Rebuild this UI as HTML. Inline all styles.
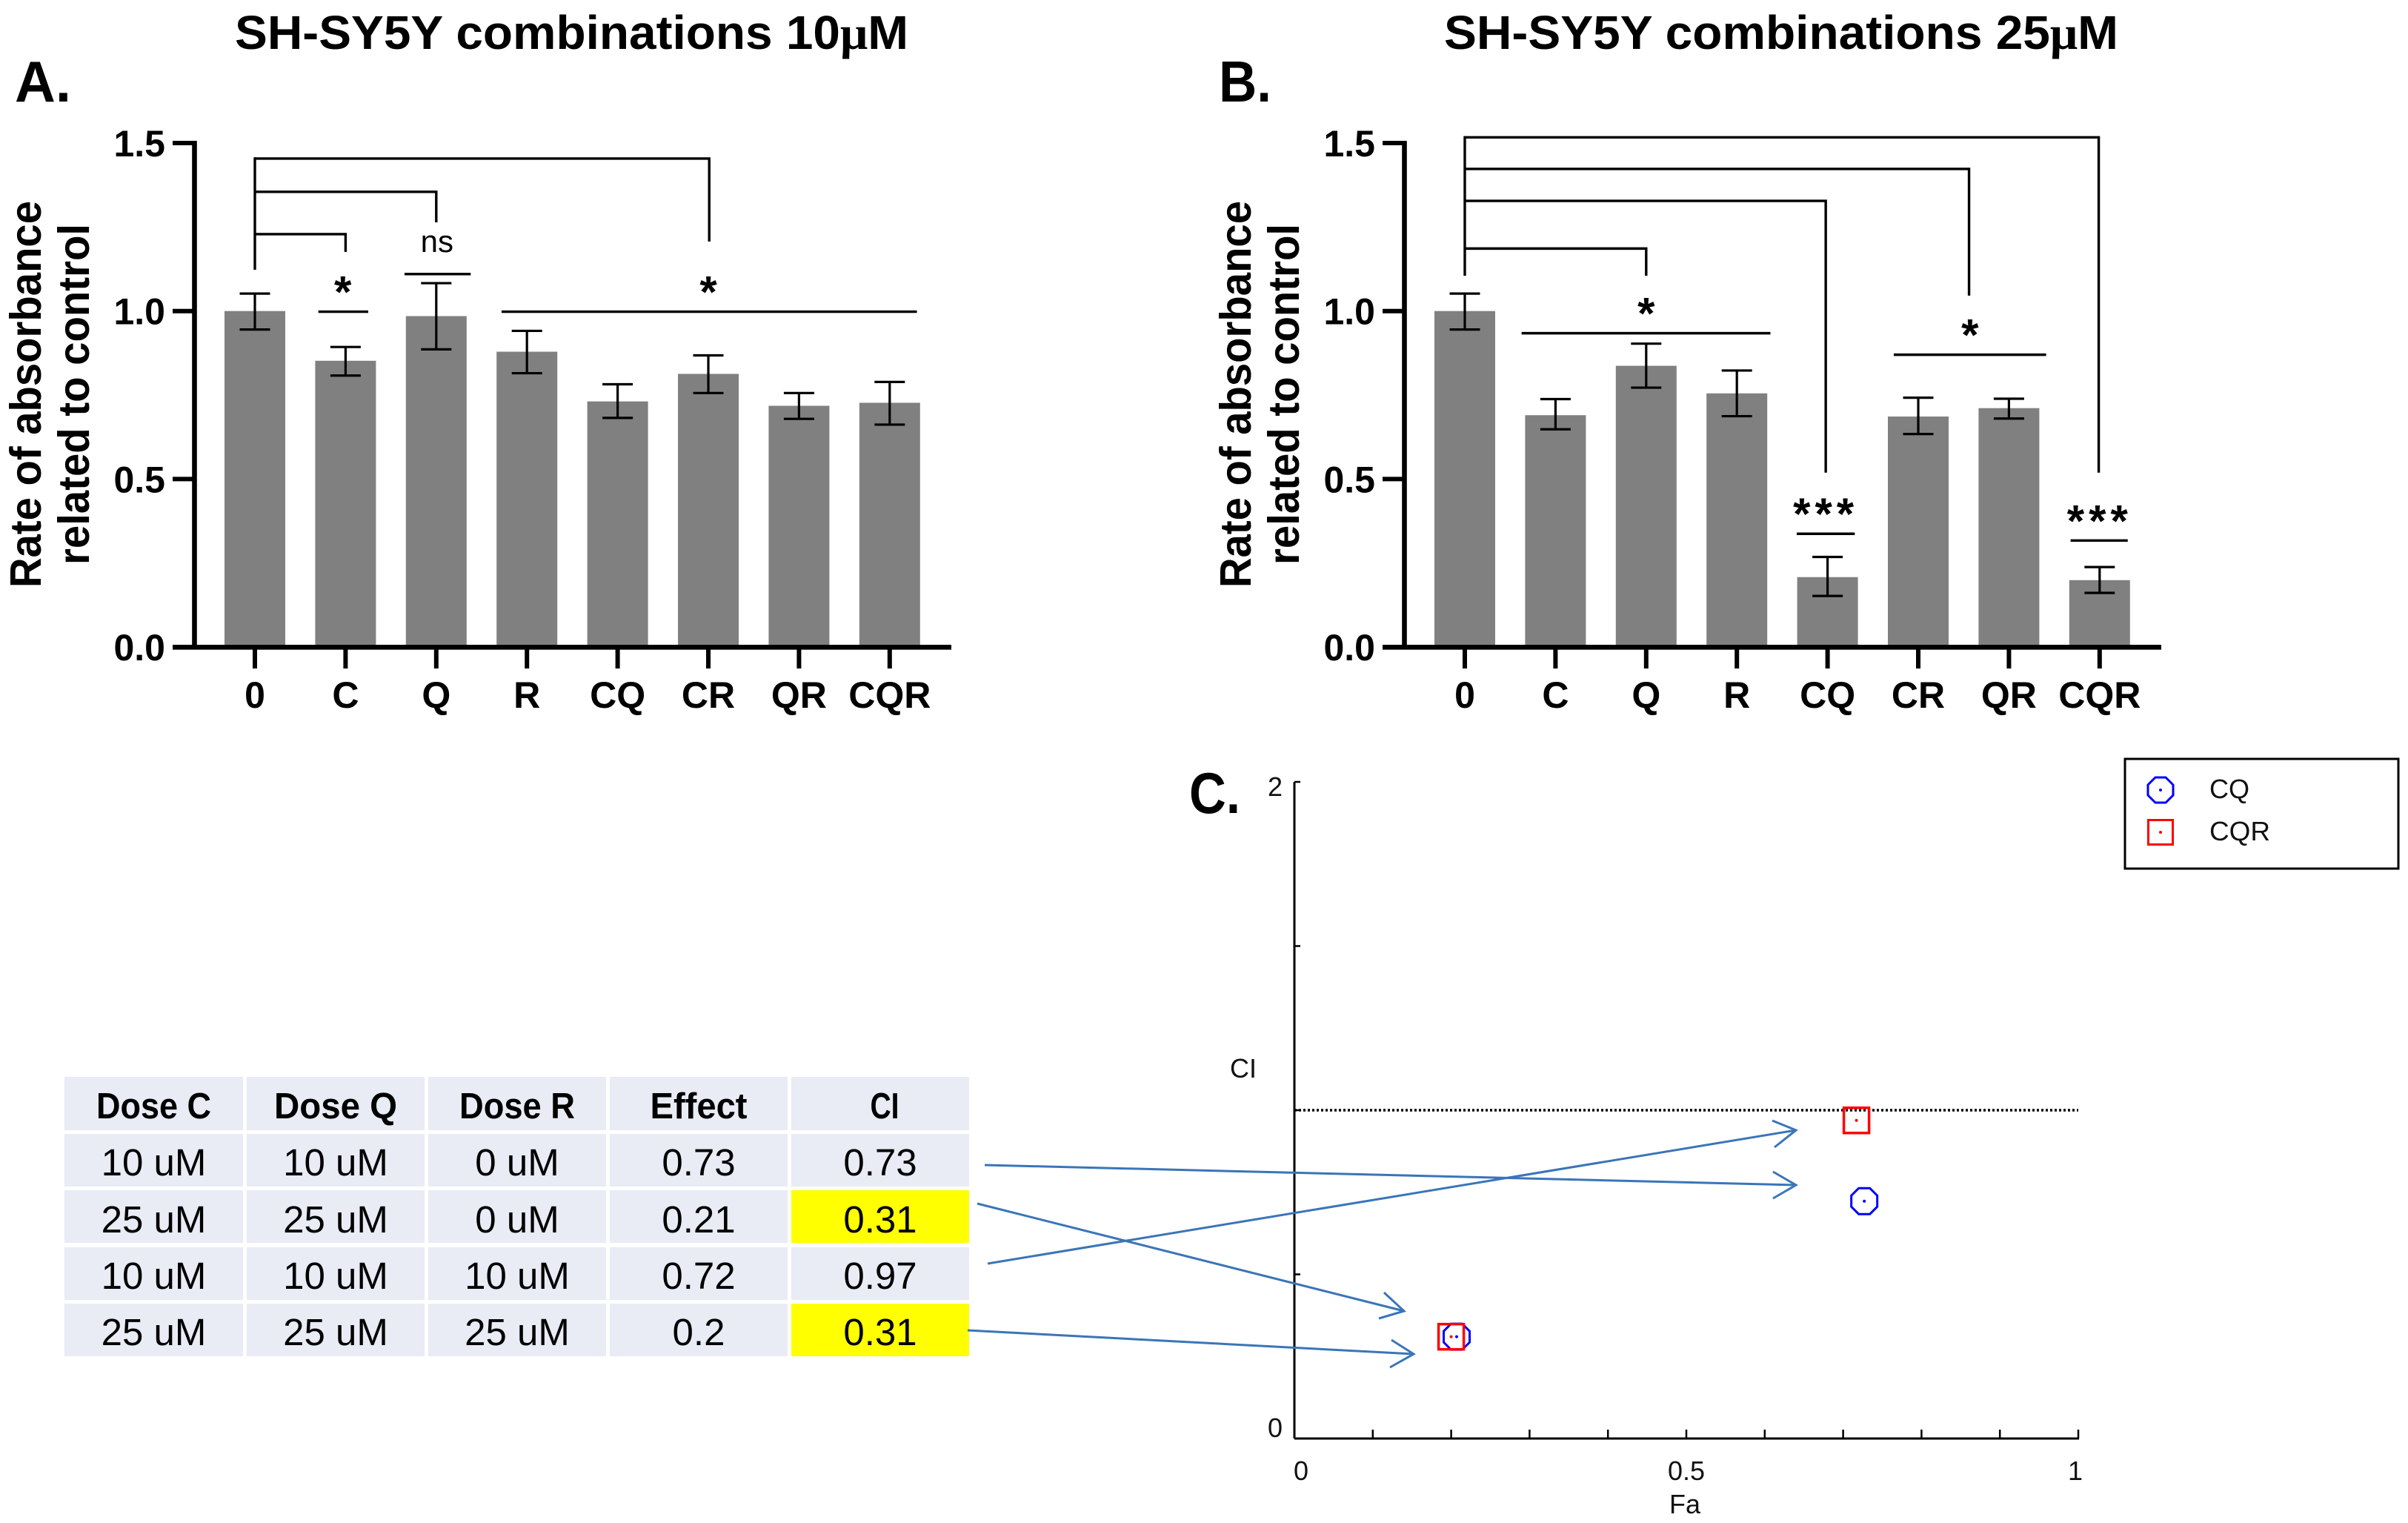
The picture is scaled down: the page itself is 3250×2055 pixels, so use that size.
<!DOCTYPE html>
<html lang="en">
<head>
<meta charset="utf-8">
<title>SH-SY5Y combinations</title>
<style>
html,body{margin:0;padding:0;background:#fff;}
svg{display:block;}
text{font-family:"Liberation Sans",sans-serif;fill:#000;}
.bold{font-weight:700;}
.title{font-size:64px;font-weight:700;}
.panel{font-size:78px;font-weight:700;}
.ylab{font-size:59px;font-weight:700;}
.tick{font-size:50px;font-weight:700;}
.th{font-size:49px;font-weight:700;text-anchor:middle;}
.td{font-size:51px;text-anchor:middle;}
.cell{fill:#E9EBF5;}
.hi{fill:#FFFF00;}
.ci{font-size:36px;fill:#111;}
.arrow{fill:none;stroke:#3A75B8;stroke-width:3;}
</style>
</head>
<body>
<svg id="fig" xmlns="http://www.w3.org/2000/svg" width="3250" height="2055" viewBox="0 0 3250 2055">
  <rect x="0" y="0" width="3250" height="2055" fill="#fff"/>

  <text class="panel" x="20" y="137" textLength="76" lengthAdjust="spacingAndGlyphs">A.</text>
  <text class="panel" x="1645" y="137" textLength="71" lengthAdjust="spacingAndGlyphs">B.</text>
  <text class="panel" x="1605" y="1097" textLength="69" lengthAdjust="spacingAndGlyphs">C.</text>

  <text class="title" x="317" y="66" textLength="909" lengthAdjust="spacingAndGlyphs">SH-SY5Y combinations 10<tspan font-family="'Liberation Serif',serif">μ</tspan>M</text>
  <text class="title" x="1949" y="66" textLength="910" lengthAdjust="spacingAndGlyphs">SH-SY5Y combinations 25<tspan font-family="'Liberation Serif',serif">μ</tspan>M</text>

  <text class="ylab" transform="translate(55,532) rotate(-90)" text-anchor="middle" textLength="522" lengthAdjust="spacingAndGlyphs">Rate of absorbance</text>
  <text class="ylab" transform="translate(120,532) rotate(-90)" text-anchor="middle" textLength="460" lengthAdjust="spacingAndGlyphs">related to control</text>
  <text class="ylab" transform="translate(1688,532) rotate(-90)" text-anchor="middle" textLength="522" lengthAdjust="spacingAndGlyphs">Rate of absorbance</text>
  <text class="ylab" transform="translate(1753,532) rotate(-90)" text-anchor="middle" textLength="460" lengthAdjust="spacingAndGlyphs">related to control</text>

  <g id="chartA"></g>
  <g id="chartB"></g>

  <g>
    <rect class="cell" x="87" y="1453" width="241" height="72"/><text class="th" x="207.5" y="1509" textLength="155" lengthAdjust="spacingAndGlyphs">Dose C</text>
    <rect class="cell" x="333" y="1453" width="240" height="72"/><text class="th" x="453" y="1509" textLength="166" lengthAdjust="spacingAndGlyphs">Dose Q</text>
    <rect class="cell" x="578" y="1453" width="240" height="72"/><text class="th" x="698" y="1509" textLength="156" lengthAdjust="spacingAndGlyphs">Dose R</text>
    <rect class="cell" x="823" y="1453" width="240" height="72"/><text class="th" x="943" y="1509" textLength="131" lengthAdjust="spacingAndGlyphs">Effect</text>
    <rect class="cell" x="1068" y="1453" width="240" height="72"/><text class="th" x="1194" y="1509" textLength="39" lengthAdjust="spacingAndGlyphs">CI</text>

    <rect class="cell" x="87" y="1530" width="241" height="71"/><text class="td" x="207.5" y="1586">10 uM</text>
    <rect class="cell" x="333" y="1530" width="240" height="71"/><text class="td" x="453" y="1586">10 uM</text>
    <rect class="cell" x="578" y="1530" width="240" height="71"/><text class="td" x="698" y="1586">0 uM</text>
    <rect class="cell" x="823" y="1530" width="240" height="71"/><text class="td" x="943" y="1586">0.73</text>
    <rect class="cell" x="1068" y="1530" width="240" height="71"/><text class="td" x="1188" y="1586">0.73</text>

    <rect class="cell" x="87" y="1606" width="241" height="71"/><text class="td" x="207.5" y="1663">25 uM</text>
    <rect class="cell" x="333" y="1606" width="240" height="71"/><text class="td" x="453" y="1663">25 uM</text>
    <rect class="cell" x="578" y="1606" width="240" height="71"/><text class="td" x="698" y="1663">0 uM</text>
    <rect class="cell" x="823" y="1606" width="240" height="71"/><text class="td" x="943" y="1663">0.21</text>
    <rect class="hi" x="1068" y="1606" width="240" height="71"/><text class="td" x="1188" y="1663">0.31</text>

    <rect class="cell" x="87" y="1683" width="241" height="71"/><text class="td" x="207.5" y="1739">10 uM</text>
    <rect class="cell" x="333" y="1683" width="240" height="71"/><text class="td" x="453" y="1739">10 uM</text>
    <rect class="cell" x="578" y="1683" width="240" height="71"/><text class="td" x="698" y="1739">10 uM</text>
    <rect class="cell" x="823" y="1683" width="240" height="71"/><text class="td" x="943" y="1739">0.72</text>
    <rect class="cell" x="1068" y="1683" width="240" height="71"/><text class="td" x="1188" y="1739">0.97</text>

    <rect class="cell" x="87" y="1759" width="241" height="71"/><text class="td" x="207.5" y="1815">25 uM</text>
    <rect class="cell" x="333" y="1759" width="240" height="71"/><text class="td" x="453" y="1815">25 uM</text>
    <rect class="cell" x="578" y="1759" width="240" height="71"/><text class="td" x="698" y="1815">25 uM</text>
    <rect class="cell" x="823" y="1759" width="240" height="71"/><text class="td" x="943" y="1815">0.2</text>
    <rect class="hi" x="1068" y="1759" width="240" height="71"/><text class="td" x="1188" y="1815">0.31</text>
  </g>

  <g id="chartC">
    <text class="ci" x="1660" y="1454">CI</text>
    <text class="ci" x="2274" y="2042" text-anchor="middle">Fa</text>
  </g>

  <g>
    <rect x="2868" y="1024" width="369" height="148" fill="#fff" stroke="#000" stroke-width="3"/>
    <polygon points="2933,1059 2923,1049 2909,1049 2899,1059 2899,1073 2909,1083 2923,1083 2933,1073" fill="none" stroke="#0000ff" stroke-width="3"/>
    <circle cx="2916" cy="1066" r="2" fill="#0000ff"/>
    <text class="ci" x="2982" y="1077" textLength="54" lengthAdjust="spacingAndGlyphs">CQ</text>
    <rect x="2899.5" y="1106.5" width="33" height="33" fill="none" stroke="#ff0000" stroke-width="3"/>
    <circle cx="2916" cy="1123" r="2" fill="#ff0000"/>
    <text class="ci" x="2982" y="1134" textLength="82" lengthAdjust="spacingAndGlyphs">CQR</text>
  </g>

  <g>
    <path class="arrow" d="M1329 1572L2424 1599M2393 1581L2424 1599L2393 1617"/>
    <path class="arrow" d="M1319 1624L1895 1769M1868 1744L1895 1769L1861 1779"/>
    <path class="arrow" d="M1333 1705L2424 1525M2392 1512L2424 1525L2395 1548"/>
    <path class="arrow" d="M1306 1795L1908 1827M1878 1808L1908 1827L1876 1845"/>
  </g>
</svg>

<script>
// Shared bar-chart data
const categories = ['0', 'C', 'Q', 'R', 'CQ', 'CR', 'QR', 'CQR'];
const yTickValues = [0, 0.5, 1, 1.5];
const yTickLabels = ['0.0', '0.5', '1.0', '1.5'];

// Panel A (10 uM)
const valuesA = [1.0, 0.852, 0.985, 0.879, 0.731, 0.813, 0.718, 0.727];
const errHighA = [1.052, 0.893, 1.083, 0.941, 0.782, 0.868, 0.756, 0.789];
const errLowA = [0.945, 0.808, 0.886, 0.815, 0.682, 0.756, 0.679, 0.662];
// brackets: [target category, level value, drop end value]
const bracketsA = [[5.01, 1.454, 1.207], [2, 1.355, 1.264], [1, 1.229, 1.176]];
const trunkEndA = 1.123;
// significance: [from category, to category, value, label, label category]
const sigA = [[0.70, 1.25, 0.998, '*', 0.97], [1.65, 2.38, 1.11, '', 2], [2.72, 7.30, 0.998, '*', 5.0]];

// Panel B (25 uM)
const valuesB = [1.0, 0.69, 0.837, 0.755, 0.208, 0.686, 0.711, 0.199];
const errHighB = [1.052, 0.738, 0.903, 0.823, 0.268, 0.742, 0.739, 0.238];
const errLowB = [0.945, 0.648, 0.772, 0.687, 0.152, 0.634, 0.68, 0.161];
const bracketsB = [[6.99, 1.517, 0.519], [5.56, 1.423, 1.046], [3.98, 1.328, 0.519], [2, 1.186, 1.105]];
const trunkEndB = 1.105;
const sigB = [[0.626, 3.37, 0.934, '*', 2], [4.73, 6.41, 0.870, '*', 5.57], [3.66, 4.30, 0.337, '***', 3.98], [6.68, 7.31, 0.317, '***', 7]];

// Panel C (combination index plot)
const faCQ = [0.727, 0.207];
const ciCQ = [0.723, 0.31];
const faCQR = [0.717, 0.2];
const ciCQR = [0.969, 0.31];
const ciXTicks = [0, 0.1, 0.2, 0.3, 0.4, 0.5, 0.6, 0.7, 0.8, 0.9, 1];
const ciYTicks = [0, 0.5, 1, 1.5, 2];
const ciXLabelValues = [0, 0.5, 1];
const ciXLabels = ['0', '0.5', '1'];
const ciYLabelValues = [0, 2];
const ciYLabels = ['0', '2'];
const ciReference = 1;

const NS = 'http://www.w3.org/2000/svg';
function mk(tag, attrs, parent) {
  const e = document.createElementNS(NS, tag);
  for (const k in attrs) e.setAttribute(k, attrs[k]);
  parent.appendChild(e);
  return e;
}
function seg(parent, x1, y1, x2, y2, w, color) {
  return mk('line', {x1: x1, y1: y1, x2: x2, y2: y2, stroke: color || '#000', 'stroke-width': w}, parent);
}

function drawBars(g, dx, values, hi, lo, brackets, trunkEnd, sig, nsLabel) {
  const yScale = v => 873 - 453.3 * v;
  const xScale = i => dx + 344 + 122.4 * i;
  const barW = 82, capW = 41;

  values.forEach((v, i) => {
    const bar = mk('rect', {x: xScale(i) - barW / 2, y: yScale(v), width: barW, height: yScale(0) - yScale(v), fill: '#808080'}, g);
    
    
  });
  values.forEach((v, i) => {
    const stem = seg(g, xScale(i), yScale(hi[i]), xScale(i), yScale(lo[i]), 3.2);
    
    
    const capTop = seg(g, xScale(i) - capW / 2, yScale(hi[i]), xScale(i) + capW / 2, yScale(hi[i]), 3.2);
    
    
    const capBot = seg(g, xScale(i) - capW / 2, yScale(lo[i]), xScale(i) + capW / 2, yScale(lo[i]), 3.2);
    
    
  });

  const yAxis = seg(g, dx + 262.5, 190, dx + 262.5, 876, 6.6);
  
  
  const xAxis = seg(g, dx + 233, 873.3, dx + 1284, 873.3, 6.6);
  
  

  yTickValues.forEach((v, i) => {
    const t = seg(g, dx + 233, yScale(v), dx + 263, yScale(v), 6);
    
    
    const l = mk('text', {x: dx + 223, y: yScale(v) + 18, 'text-anchor': 'end', class: 'tick'}, g);
    
    
    l.textContent = yTickLabels[i];
  });
  categories.forEach((c, i) => {
    const t = seg(g, xScale(i), 873, xScale(i), 902, 6);
    
    
    const l = mk('text', {x: xScale(i), y: 955, 'text-anchor': 'middle', class: 'tick'}, g);
    
    
    l.textContent = c;
  });

  const trunk = seg(g, xScale(0), yScale(brackets[0][1]) - 1.7, xScale(0), yScale(trunkEnd), 3.4);
  
  
  brackets.forEach(b => {
    const p = mk('path', {d: 'M' + xScale(0) + ' ' + yScale(b[1]) + 'H' + xScale(b[0]) + 'V' + yScale(b[2]), fill: 'none', stroke: '#000', 'stroke-width': 3.4}, g);
    
    
  });
  sig.forEach(s => {
    const line = seg(g, xScale(s[0]), yScale(s[2]), xScale(s[1]), yScale(s[2]), 3.4);
    
    
    if (s[3]) {
      const st = mk('text', {x: xScale(s[4]), y: yScale(s[2]) - 6, 'text-anchor': 'middle', 'font-size': 60, 'font-weight': 700, 'letter-spacing': s[3].length > 1 ? 6 : 0}, g);
      
      
      st.textContent = s[3];
    }
  });
  if (nsLabel) {
    const ns = mk('text', {x: xScale(2) + 1, y: 340, 'text-anchor': 'middle', 'font-size': 42}, g);
    
    
    ns.textContent = nsLabel;
  }
}

drawBars(document.getElementById('chartA'), 0, valuesA, errHighA, errLowA, bracketsA, trunkEndA, sigA, 'ns');
drawBars(document.getElementById('chartB'), 1633, valuesB, errHighB, errLowB, bracketsB, trunkEndB, sigB, '');

(function drawCI() {
  const g = document.getElementById('chartC');
  const xs = v => 1747 + 1058 * v;
  const ys = v => 1941 - 443 * v;

  const yAxis = seg(g, xs(0), ys(2), xs(0), ys(0), 3);
  
  
  const xAxis = seg(g, xs(0), ys(0), xs(1) + 1, ys(0), 3);
  
  

  ciXTicks.forEach(v => {
    const t = seg(g, xs(v), ys(0), xs(v), ys(0) - 12, 2.5);
    
    
  });
  ciYTicks.forEach(v => {
    const t = seg(g, xs(0), ys(v), xs(0) + 8, ys(v), 2.5);
    
    
  });
  ciXLabelValues.forEach((v, i) => {
    const l = mk('text', {x: xs(v) + (v === 0 ? 9 : (v === 1 ? -4 : 0)), y: 1997, 'text-anchor': 'middle', class: 'ci'}, g);
    
    
    l.textContent = ciXLabels[i];
  });
  ciYLabelValues.forEach((v, i) => {
    const l = mk('text', {x: xs(0) - 26, y: ys(v) + (v === 0 ? -2 : 19), 'text-anchor': 'middle', class: 'ci'}, g);
    
    
    l.textContent = ciYLabels[i];
  });

  const ref = seg(g, xs(0), ys(ciReference), xs(1), ys(ciReference), 3.4);
  ref.setAttribute('stroke-dasharray', '3 3');
  
  

  faCQ.forEach((f, i) => {
    const cx = xs(f), cy = ys(ciCQ[i]), a = 17.5, b = 7.5;
    const pts = [[a, -b], [b, -a], [-b, -a], [-a, -b], [-a, b], [-b, a], [b, a], [a, b]]
      .map(p => (cx + p[0]) + ',' + (cy + p[1])).join(' ');
    const m = mk('polygon', {points: pts, fill: 'none', stroke: '#0000ff', 'stroke-width': 3}, g);
    
    
    const d = mk('circle', {cx: cx, cy: cy, r: 2, fill: '#0000ff'}, g);
    
    
  });
  faCQR.forEach((f, i) => {
    const cx = xs(f), cy = ys(ciCQR[i]);
    const m = mk('rect', {x: cx - 17, y: cy - 17, width: 34, height: 34, fill: 'none', stroke: '#ff0000', 'stroke-width': 3.5}, g);
    
    
    const d = mk('circle', {cx: cx, cy: cy, r: 2, fill: '#ff0000'}, g);
    
    
  });
})();
</script>
</body>
</html>
